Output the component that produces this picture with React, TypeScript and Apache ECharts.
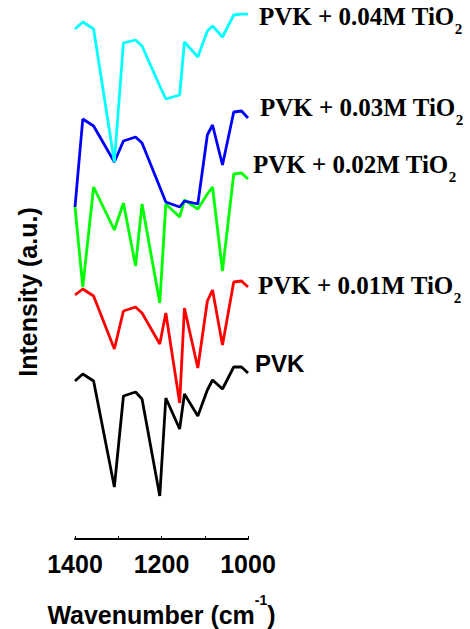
import React, { useEffect, useRef } from "react";
import * as echarts from "echarts";

// FTIR spectra, 1400–1000 cm⁻¹ region; intensities are offset traces in a.u.
const wavenumbers = [1400, 1382, 1357, 1309, 1288, 1260, 1245, 1204, 1190, 1158, 1147, 1116, 1094, 1082, 1059, 1033, 1015, 1000];

const pvk = [1.58, 1.65, 1.58, 0.52, 1.43, 1.47, 1.4, 0.43, 1.41, 1.1, 1.45, 1.23, 1.49, 1.59, 1.5, 1.72, 1.72, 1.66];
const pvk001 = [2.44, 2.5, 2.43, 1.9, 2.28, 2.32, 2.26, 1.95, 2.26, 1.36, 2.31, 1.71, 2.38, 2.49, 1.94, 2.57, 2.58, 2.52];
const pvk002 = [3.32, 2.52, 3.52, 3.09, 3.36, 2.73, 3.35, 2.36, 3.35, 3.22, 3.39, 3.3, 3.45, 3.52, 2.68, 3.65, 3.66, 3.6];
const pvk003 = [3.32, 4.2, 4.13, 3.77, 3.98, 4.02, 3.96, 3.52, 3.37, 3.32, 3.38, 3.35, 4.04, 4.14, 3.74, 4.27, 4.28, 4.21];
const pvk004 = [5.1, 5.17, 5.1, 3.77, 4.96, 4.99, 4.93, 4.53, 4.4, 4.44, 4.97, 4.82, 5.08, 5.13, 5.02, 5.24, 5.25, 5.25];

const seriesNames = ["PVK", "PVK + 0.01M TiO2", "PVK + 0.02M TiO2", "PVK + 0.03M TiO2", "PVK + 0.04M TiO2"];
const seriesValues = [pvk, pvk001, pvk002, pvk003, pvk004];
const seriesColors = ["#000000", "#ff0000", "#00ff00", "#0000ff", "#00ffff"];

const xTickLabels = [1400, 1200, 1000];

const SANS = "'Liberation Sans', Arial, sans-serif";
const SERIF = "'Liberation Serif', 'Times New Roman', serif";

function trace(values: number[]) {
  return wavenumbers.map((w, i) => [w, values[i]]);
}

function seriesLabel(x: number, y: number, prefix: string) {
  return {
    type: "text",
    left: x,
    top: y - 20,
    style: {
      text: `{m|${prefix} TiO}{s|2}`,
      rich: {
        m: { fontFamily: SERIF, fontWeight: "bold", fontSize: 25, lineHeight: 40, fill: "#000" },
        s: { fontFamily: SERIF, fontWeight: "bold", fontSize: 15, lineHeight: 40, verticalAlign: "bottom", fill: "#000" },
      },
    },
  };
}

export default function App() {
  const ref = useRef<HTMLDivElement>(null);

  useEffect(() => {
    if (!ref.current) return;
    const chart = echarts.init(ref.current, undefined, { renderer: "svg" });
    chart.setOption({
      animation: false,
      backgroundColor: "#ffffff",
      grid: { left: 75, right: 222, top: 14, bottom: 90, containLabel: false, outerBoundsMode: "none" },
      xAxis: {
        type: "value",
        min: 1000,
        max: 1400,
        interval: 100,
        inverse: true,
        name: "{m|Wavenumber (cm}{s|-1}{m|)}",
        nameLocation: "middle",
        nameGap: 54,
        nameTextStyle: {
          rich: {
            m: { fontFamily: SANS, fontWeight: "bold", fontSize: 25, lineHeight: 34, verticalAlign: "bottom", color: "#000" },
            s: { fontFamily: SANS, fontWeight: "bold", fontSize: 14, lineHeight: 34, verticalAlign: "top", color: "#000" },
          },
        },
        axisLine: { lineStyle: { color: "#000", width: 2 } },
        axisTick: { inside: true, length: 3, lineStyle: { color: "#000", width: 1 } },
        axisLabel: {
          margin: 12,
          fontFamily: SANS,
          fontWeight: "bold",
          fontSize: 25,
          color: "#000",
          formatter: (v: number) => (xTickLabels.includes(v) ? String(v) : ""),
        },
        splitLine: { show: false },
      },
      yAxis: {
        type: "value",
        min: 0,
        max: 5.25,
        show: false,
      },
      series: seriesValues.map((vals, i) => ({
        name: seriesNames[i],
        type: "line",
        data: trace(vals),
        symbol: "none",
        lineStyle: { color: seriesColors[i], width: 2.8 },
        itemStyle: { color: seriesColors[i] },
      })),
      graphic: [
        {
          type: "text",
          x: 28,
          y: 292,
          rotation: Math.PI / 2,
          style: {
            text: "Intensity (a.u.)",
            fontFamily: SANS,
            fontWeight: "bold",
            fontSize: 25,
            fill: "#000",
            align: "center",
            verticalAlign: "middle",
          },
        },
        seriesLabel(259, 24, "PVK + 0.04M"),
        seriesLabel(260, 115, "PVK + 0.03M"),
        seriesLabel(253, 172, "PVK + 0.02M"),
        seriesLabel(258, 293, "PVK + 0.01M"),
        {
          type: "text",
          left: 255,
          top: 363 - 14,
          style: {
            text: "PVK",
            fontFamily: SANS,
            fontWeight: "bold",
            fontSize: 24,
            lineHeight: 28,
            fill: "#000",
          },
        },
      ],
    });
    return () => chart.dispose();
  }, []);

  return (
    <div
      ref={ref}
      style={{ position: "fixed", left: 0, top: 0, width: 470, height: 629, background: "#fff" }}
    />
  );
}
